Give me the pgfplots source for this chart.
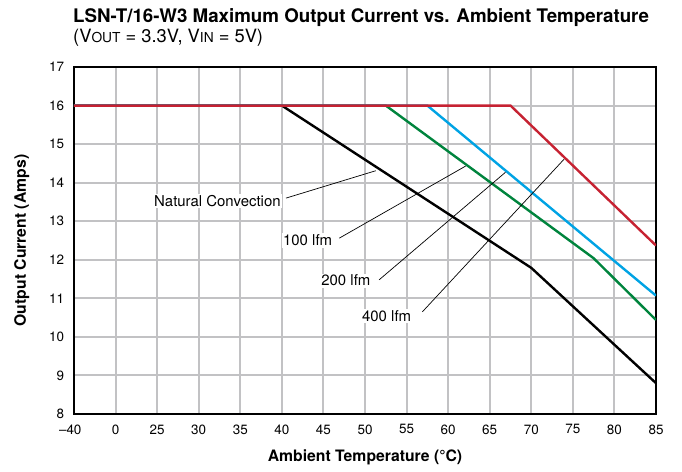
\documentclass[border=0pt]{standalone}
\usepackage{pgfplots}
\pgfplotsset{compat=1.18}
\usepackage{fontspec}
\setmainfont{TeX Gyre Heros}
\definecolor{cred}{HTML}{C62232}
\definecolor{cgreen}{HTML}{00843D}
\definecolor{cblue}{HTML}{00A3E4}
\definecolor{cgrid}{rgb}{0.76,0.76,0.77}
\begin{document}
\begin{tikzpicture}
% x positions are tick indices: -40,0,25,30,...,85 -> 0,1,2,...,14
\begin{axis}[
    scale only axis, width=582bp, height=347bp,
    xmin=0, xmax=14, ymin=8, ymax=17,
    xtick={0,...,14},
    xticklabels={\llap{--}40,0,25,30,35,40,45,50,55,60,65,70,75,80,85},
    ytick={8,...,17},
    xmajorgrids, ymajorgrids,
    major grid style={draw=cgrid, line width=2bp},
    tick style={draw=none},
    /pgf/number format/assume math mode=true,
    tick label style={font=\fontsize{13.5}{15}\selectfont},
    xticklabel style={yshift=-7bp},
    yticklabel style={xshift=-6.5bp},
    axis line style={black, line width=1.3bp},
    xlabel={\textbf{Ambient Temperature (\textdegree C)}},
    ylabel={\textbf{Output Current (Amps)}},
    label style={font=\fontsize{15.8}{17}\selectfont},
    xlabel style={at={(axis description cs:0.5,-0.1383)}, anchor=base},
    ylabel style={at={(axis description cs:-0.0825,0.5)}, anchor=base},
]
\addplot[black, line width=2.4bp] coordinates {(0,16) (5,16) (11,11.79) (14,8.8)};
\addplot[cgreen, line width=2.4bp] coordinates {(0,16) (7.5,16) (12.5,12.04) (14,10.44)};
\addplot[cblue, line width=2.4bp] coordinates {(0,16) (8.5,16) (14,11.07)};
\addplot[cred, line width=2.4bp] coordinates {(0,16) (10.5,16) (14,12.37)};
% leader lines
\draw[black, line width=0.7bp] (axis cs:5.10,13.60) -- (axis cs:7.26,14.31);
\draw[black, line width=0.7bp] (axis cs:6.38,12.56) -- (axis cs:9.42,14.43);
\draw[black, line width=0.7bp] (axis cs:7.34,11.48) -- (axis cs:10.38,14.27);
\draw[black, line width=0.7bp] (axis cs:8.38,10.65) -- (axis cs:11.79,14.61);
\tikzset{lbl/.style={fill=white, inner sep=1.5bp, font=\fontsize{15}{17}\selectfont}}
\node[lbl] at (axis cs:3.45,13.52) {Natural Convection};
\node[lbl] at (axis cs:5.62,12.50) {100 lfm};
\node[lbl] at (axis cs:6.54,11.46) {200 lfm};
\node[lbl] at (axis cs:7.52,10.54) {400 lfm};
\end{axis}
\node[anchor=base west, font=\fontsize{18.8}{20}\bfseries\selectfont, inner sep=0pt] at (-1bp,391bp) {LSN-T/16-W3 Maximum Output Current vs. Ambient Temperature};
\node[anchor=base west, font=\fontsize{18.4}{20}\selectfont, inner sep=0pt] at (-1bp,371.5bp) {(V{\fontsize{13.8}{15}\selectfont OUT} = 3.3V, V{\fontsize{13.8}{15}\selectfont IN} = 5V)};
\path (-74bp,-58bp) rectangle (608bp,414bp);
\end{tikzpicture}
\end{document}
